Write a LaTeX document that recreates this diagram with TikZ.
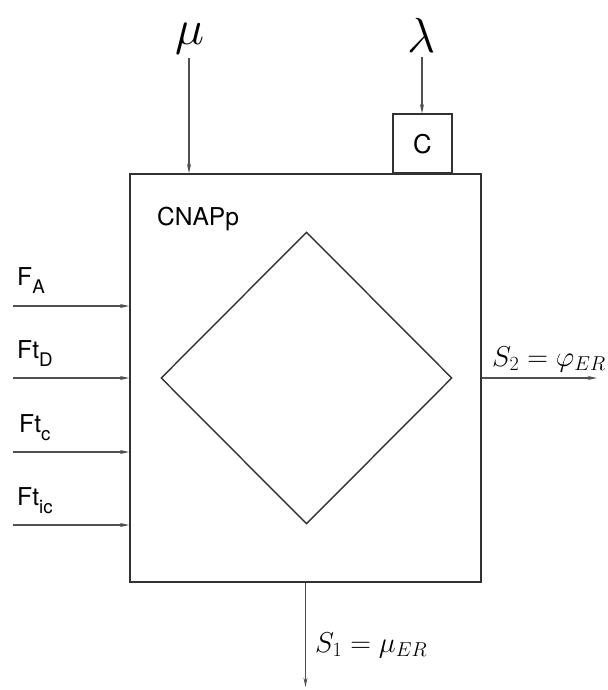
\documentclass[tikz,border=0pt]{standalone}
\usepackage{fix-cm}
\usepackage{fontspec}
\setsansfont{TeX Gyre Heros}
\usepackage{tikz}
\usetikzlibrary{arrows.meta, positioning, calc, shapes.geometric}
\definecolor{edge}{RGB}{50,50,50}
\definecolor{wire}{RGB}{80,80,80}
\newcommand{\lowsub}[1]{\raisebox{-7.5pt}{\fontsize{16}{16}\selectfont #1}}

\begin{document}
\begin{tikzpicture}[
    x=0.03cm, y=-0.03cm,
    blk/.style={rectangle, draw=edge, line width=1.4pt, inner sep=0pt},
    cbox/.style={rectangle, draw=edge, line width=1.4pt, minimum size=1.77cm, inner sep=0pt, font=\sffamily\fontsize{22}{24}\selectfont},
    rhomb/.style={diamond, draw=edge, line width=1.2pt, minimum width=8.73cm, minimum height=8.76cm, inner sep=0pt},
    arr/.style={-{Stealth[length=8pt, width=3.5pt]}, line width=1.1pt, wire},
    sflbl/.style={font=\sffamily\fontsize{21}{23}\selectfont, inner sep=0pt},
    mlbl/.style={font=\fontsize{24.5}{28}\selectfont, inner sep=0pt},
    glbl/.style={font=\fontsize{42}{46}\selectfont, inner sep=4pt},
]
\useasboundingbox (0,0) rectangle (608,690);

\node[blk, minimum width=10.53cm, minimum height=12.24cm] (cnap) at (305.5,378) {};
\node[rhomb] (core) at (306.5,378) {};
\node[sflbl, anchor=base west] (name) at (157,225) {CNAPp};
\node[cbox, anchor=south] (cbox) at (422.5,174) {C};

\node[glbl, anchor=base] (mu) at (190,44) {$\mu$};
\node[glbl, anchor=base] (lam) at (422,52) {$\lambda$};

\node[sflbl, anchor=base west] (fa)  at (17,285) {F\lowsub{A}};
\node[sflbl, anchor=base west] (ftd) at (17,358) {Ft\lowsub{D}};
\node[sflbl, anchor=base west] (ftc) at (19,432) {Ft\lowsub{c}};
\node[sflbl, anchor=base west] (fti) at (17,505) {Ft\lowsub{ic}};

\coordinate (ina) at (13,306);
\coordinate (ind) at (13,378);
\coordinate (inc) at (13,452);
\coordinate (ini) at (13,525);
\coordinate (outtwo) at (597,378);
\coordinate (outone) at (305.5,687);

\node[mlbl, anchor=base west] (stwo) at (492,366) {$S_2=\varphi_{ER}$};
\node[mlbl, anchor=base west] (sone) at (315,652) {$S_1=\mu_{ER}$};

\draw[arr] (mu.south -| 189,0) -- (189,0 |- cnap.north);
\draw[arr] (lam.south) -- (lam.south |- cbox.north);
\draw[arr] (ina) -- (ina -| cnap.west);
\draw[arr] (ind) -- (ind -| cnap.west);
\draw[arr] (inc) -- (inc -| cnap.west);
\draw[arr] (ini) -- (ini -| cnap.west);
\draw[arr] (cnap.east) -- (outtwo);
\draw[arr] (cnap.south) -- (outone);
\end{tikzpicture}
\end{document}
